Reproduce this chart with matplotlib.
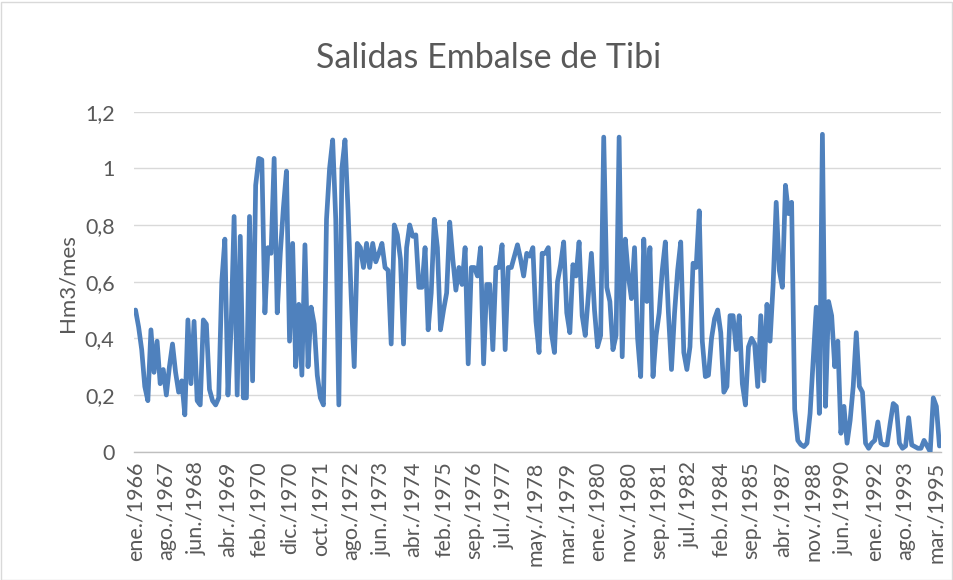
import matplotlib
matplotlib.use("Agg")
import matplotlib.pyplot as plt
from matplotlib.patches import Rectangle
from matplotlib.ticker import FuncFormatter

plt.rcParams['font.family'] = ['Lato', 'DejaVu Sans']

tick_labels = ["ene./1966", "ago./1967", "jun./1968", "abr./1969", "feb./1970", "dic./1970",
               "oct./1971", "ago./1972", "jun./1973", "abr./1974", "feb./1975", "sep./1976",
               "jul./1977", "may./1978", "mar./1979", "ene./1980", "nov./1980", "sep./1981",
               "jul./1982", "feb./1984", "sep./1985", "abr./1987", "nov./1988", "jun./1990",
               "ene./1992", "ago./1993", "mar./1995"]

salidas = [
    # 0-35
    0.50, 0.44, 0.36, 0.23, 0.18, 0.43, 0.28, 0.39, 0.24, 0.29,
    0.20, 0.30, 0.38, 0.28, 0.21, 0.25, 0.13, 0.465, 0.24, 0.46,
    0.18, 0.165, 0.465, 0.45, 0.22, 0.18, 0.165, 0.19, 0.60, 0.75,
    0.20, 0.43, 0.83, 0.20, 0.76, 0.19,
    # 36-71
    0.19, 0.83, 0.25, 0.94, 1.035, 1.03, 0.49, 0.72, 0.70, 1.035,
    0.49, 0.70, 0.86, 0.99, 0.39, 0.735, 0.30, 0.52, 0.27, 0.73,
    0.30, 0.51, 0.45, 0.27, 0.19, 0.165, 0.82, 1.0, 1.10, 0.82,
    0.165, 1.0, 1.10, 0.85, 0.55, 0.30,
    # 72-108
    0.735, 0.72, 0.65, 0.735, 0.65, 0.735, 0.67, 0.70, 0.735, 0.65,
    0.64, 0.38, 0.80, 0.765, 0.68, 0.38, 0.72, 0.80, 0.76, 0.765,
    0.58, 0.58, 0.72, 0.43, 0.56, 0.82, 0.72, 0.43, 0.50, 0.56,
    0.81, 0.68, 0.57, 0.65, 0.59, 0.72, 0.31,
    # 109-145
    0.65, 0.65, 0.62, 0.72, 0.31, 0.59, 0.59, 0.36, 0.65, 0.65,
    0.73, 0.36, 0.65, 0.65, 0.69, 0.73, 0.68, 0.62, 0.70, 0.69,
    0.72, 0.46, 0.35, 0.70, 0.70, 0.72, 0.42, 0.35, 0.60, 0.66,
    0.74, 0.49, 0.42, 0.66, 0.62, 0.74, 0.48,
    # 146-182
    0.41, 0.55, 0.70, 0.50, 0.37, 0.41, 1.11, 0.58, 0.53, 0.36,
    0.41, 1.11, 0.335, 0.75, 0.62, 0.54, 0.72, 0.40, 0.265, 0.75,
    0.53, 0.72, 0.265, 0.41, 0.49, 0.64, 0.74, 0.49, 0.29, 0.49,
    0.64, 0.74, 0.35, 0.29, 0.37, 0.665, 0.65,
    # 183-218
    0.85, 0.39, 0.265, 0.27, 0.40, 0.47, 0.50, 0.42, 0.21, 0.23,
    0.48, 0.48, 0.36, 0.48, 0.24, 0.165, 0.37, 0.40, 0.38, 0.23,
    0.48, 0.25, 0.52, 0.39, 0.59, 0.88, 0.64, 0.58, 0.94, 0.84,
    0.88, 0.15, 0.04, 0.025, 0.018, 0.03,
    # 219-261
    0.135, 0.32, 0.51, 0.135, 1.12, 0.16, 0.53, 0.48, 0.30, 0.39,
    0.065, 0.16, 0.03, 0.11, 0.23, 0.42, 0.23, 0.21, 0.03, 0.012,
    0.03, 0.04, 0.105, 0.03, 0.024, 0.024, 0.10, 0.17, 0.16, 0.03,
    0.012, 0.02, 0.12, 0.024, 0.018, 0.012, 0.012, 0.04, 0.02, 0.0,
    0.19, 0.16, 0.02,
]

title = "Salidas Embalse de Tibi"
ylabel = "Hm3/mes"
label_step = 10

W, H = 954, 580
fig = plt.figure(figsize=(W / 100, H / 100), dpi=100)
fig.patch.set_facecolor("white")
fig.patches.append(Rectangle((0.5 / W, 0.5 / H), 1 - 2 / W, 1 - 2 / H, transform=fig.transFigure,
                             fill=False, edgecolor="#D9D9D9", linewidth=1))

left, right = 134 / W, 941 / W
bottom, top = (H - 451.7) / H, (H - 111.6) / H
ax = fig.add_axes([left, bottom, right - left, top - bottom])

n = len(salidas)
x = list(range(n))
ax.plot(x, salidas, color="#4F81BD", linewidth=3.4, solid_joinstyle="round", solid_capstyle="round",
        zorder=3)

ax.set_xlim(-0.5, n - 0.5)
ax.set_ylim(0, 1.2)
ax.set_yticks([0, 0.2, 0.4, 0.6, 0.8, 1.0, 1.2])
ax.yaxis.set_major_formatter(FuncFormatter(lambda v, p: ("%g" % round(v, 1)).replace(".", ",")))
ax.set_xticks(list(range(0, n, label_step))[:len(tick_labels)])
ax.set_xticklabels(tick_labels, rotation=90)

ax.grid(axis="y", color="#D9D9D9", linewidth=1)
ax.set_axisbelow(True)
for s in ["top", "right", "left"]:
    ax.spines[s].set_visible(False)
ax.spines["bottom"].set_color("#BFBFBF")
ax.spines["bottom"].set_linewidth(1)
ax.tick_params(axis="both", length=0, colors="#595959", labelsize=15.5)
ax.tick_params(axis="y", pad=14)
ax.tick_params(axis="x", pad=7)

fig.text(489 / W, 1 - 58 / H, title, ha="center", va="center", fontsize=24.5, color="#595959")
fig.text(68 / W, 1 - 283 / H, ylabel, ha="center", va="center", rotation=90, fontsize=16,
         color="#595959")

fig.savefig("out.png", dpi=100)
